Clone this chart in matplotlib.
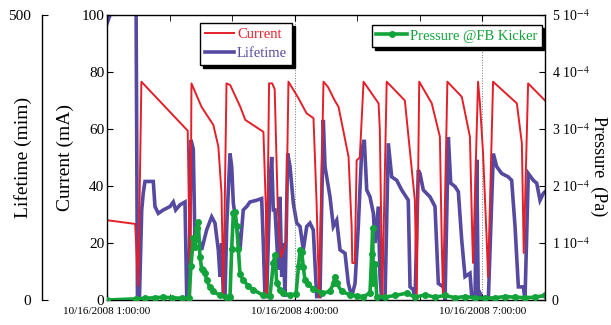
import numpy as np
import matplotlib
matplotlib.use("Agg")
import matplotlib.pyplot as plt
from matplotlib.ticker import FixedLocator, FuncFormatter

plt.rcParams['font.family'] = ['Liberation Serif', 'DejaVu Serif']
plt.rcParams['mathtext.fontset'] = 'stix'

# time in hours on 10/16/2008
cur_t = [1.00, 1.45, 1.50, 1.55, 2.29, 2.33, 2.35, 2.51, 2.70, 2.78, 2.83, 2.86, 2.91, 2.97,
         3.13, 3.21, 3.50, 3.54, 3.55, 3.59, 3.64, 3.68, 3.73, 3.78, 3.86, 3.90, 4.06, 4.19,
         4.30, 4.35, 4.39, 4.46, 4.53, 4.64, 4.70, 4.86, 4.91, 4.92, 4.96, 4.99, 5.04, 5.10,
         5.34, 5.36, 5.40, 5.47, 5.76, 5.92, 5.95, 5.99, 6.19, 6.32, 6.35, 6.37, 6.44, 6.67,
         6.80, 6.84, 6.85, 6.93, 6.96, 7.01, 7.07, 7.09, 7.17, 7.55, 7.63, 7.66, 7.73, 8.00]
current = [28, 26.7, 5, 76.6, 59.4, 1, 76, 67.8, 61.4, 53.8, 37.5, 1, 76, 75.4,
           67.8, 63.2, 59, 31.6, 1, 76, 76, 74, 31.6, 15, 20, 76.6, 70.8, 65.5,
           63.8, 34, 1, 76.6, 74.8, 70, 67.8, 50.3, 25.7, 13, 13, 49, 50, 76.6,
           69, 60, 1, 76.6, 70, 35, 1, 76.6, 69, 57.3, 20, 1, 76.6, 71.3,
           57.3, 20, 13, 76.6, 69, 51.5, 20, 8, 76.6, 69, 55, 16.5, 76, 70]

life_t = [1.000, 1.080, 1.288, 1.463, 1.487, 1.519, 1.555, 1.580, 1.607, 1.740, 1.767, 1.820,
          1.900, 2.007, 2.060, 2.098, 2.167, 2.247, 2.274, 2.311, 2.342, 2.379, 2.406, 2.459,
          2.513, 2.593, 2.673, 2.726, 2.779, 2.806, 2.833, 2.859, 2.886, 2.913, 2.966, 2.993,
          3.019, 3.073, 3.126, 3.178, 3.233, 3.285, 3.393, 3.472, 3.498, 3.525, 3.552, 3.605,
          3.632, 3.658, 3.685, 3.738, 3.765, 3.792, 3.818, 3.845, 3.888, 3.925, 3.978, 4.032,
          4.085, 4.137, 4.192, 4.244, 4.297, 4.351, 4.404, 4.457, 4.484, 4.511, 4.564, 4.617,
          4.671, 4.724, 4.804, 4.857, 4.911, 4.964, 5.016, 5.071, 5.112, 5.151, 5.203, 5.257,
          5.284, 5.336, 5.363, 5.390, 5.443, 5.496, 5.550, 5.630, 5.710, 5.815, 5.843, 5.895,
          5.923, 5.975, 6.002, 6.055, 6.162, 6.242, 6.295, 6.375, 6.402, 6.455, 6.493, 6.562,
          6.615, 6.669, 6.722, 6.801, 6.829, 6.882, 6.909, 6.934, 6.961, 7.014, 7.094, 7.174,
          7.228, 7.308, 7.413, 7.467, 7.521, 7.574, 7.654, 7.680, 7.733, 7.813, 7.867, 7.920,
          7.973, 8.000]
lifetime = [485, 510, 560, 560, 5, 5, 158, 188, 208, 208, 164, 152,
            158, 164, 172, 158, 167, 172, 6, 6, 281, 265, 100, 111,
            88, 123, 146, 135, 88, 41, 100, 6, 6, 129, 257, 234,
            170, 129, 88, 158, 164, 172, 175, 178, 100, 6, 6, 205,
            251, 158, 158, 53, 181, 41, 100, 6, 257, 234, 170, 135,
            129, 88, 129, 135, 123, 6, 6, 316, 234, 216, 181, 129,
            140, 88, 82, 29, 6, 29, 129, 263, 281, 193, 181, 152,
            100, 164, 41, 0, 0, 275, 216, 210, 193, 175, 23, 18,
            0, 228, 222, 193, 181, 164, 29, 23, 0, 286, 205, 199,
            190, 105, 41, 47, 6, 6, 246, 0, 12, 0, 0, 257,
            234, 222, 216, 210, 129, 23, 23, 0, 222, 210, 205, 175,
            187, 190]

pres_t = [1.000, 1.463, 1.607, 1.767, 1.895, 2.039, 2.199, 2.311, 2.342, 2.379, 2.406, 2.434,
          2.459, 2.486, 2.513, 2.539, 2.566, 2.593, 2.646, 2.699, 2.806, 2.902, 2.966, 2.993,
          3.019, 3.046, 3.073, 3.099, 3.126, 3.178, 3.253, 3.338, 3.498, 3.605, 3.658, 3.685,
          3.712, 3.765, 3.818, 3.925, 4.021, 4.061, 4.085, 4.112, 4.137, 4.164, 4.212, 4.297,
          4.431, 4.564, 4.620, 4.644, 4.671, 4.751, 4.884, 4.991, 5.096, 5.203, 5.230, 5.246,
          5.256, 5.284, 5.311, 5.443, 5.603, 5.790, 5.923, 6.082, 6.242, 6.402, 6.562, 6.722,
          6.882, 7.041, 7.201, 7.361, 7.521, 7.680, 7.840, 8.000]
# pressure in units of 1e-4 Pa
pres_e4 = [0, 0.02, 0.03, 0.04, 0.05, 0.04, 0.03, 0.03, 0.6, 1.08, 0.93, 1.26,
           1.37, 0.76, 0.55, 0.53, 0.47, 0.35, 0.22, 0.15, 0.08, 0.06, 0.06, 0.9,
           1.52, 1.55, 1.29, 0.9, 0.45, 0.35, 0.25, 0.18, 0.08, 0.07, 0.65, 0.79,
           0.3, 0.18, 0.12, 0.09, 0.1, 0.6, 0.88, 0.85, 0.58, 0.35, 0.28, 0.2,
           0.12, 0.15, 0.3, 0.41, 0.29, 0.15, 0.09, 0.07, 0.06, 0.12, 0.8, 1.26,
           0.3, 0.64, 0.06, 0.05, 0.08, 0.12, 0.05, 0.09, 0.05, 0.08, 0.04, 0.06,
           0.04, 0.03, 0.04, 0.06, 0.05, 0.04, 0.05, 0.08]
pressure = np.array(pres_e4) * 1e-4

red = '#e3202a'
blue = '#5549a0'
green = '#12a33a'

fig = plt.figure(figsize=(6.11, 3.25), dpi=100)
ax = fig.add_axes([0.1751, 0.0769, 0.7169, 0.8769])
ax_life = ax.twinx()
ax_p = ax.twinx()

# layering: lifetime below current, pressure on top
ax_life.set_zorder(1)
ax.set_zorder(2)
ax_p.set_zorder(3)
for a in (ax, ax_life, ax_p):
    a.patch.set_visible(False)

# ------------------------ lifetime axis ------------------------
l_life, = ax_life.plot(life_t, lifetime, color=blue, lw=2.6, label='Lifetime', solid_joinstyle='miter')
ax_life.set_ylim(0, 500)
ax_life.yaxis.set_ticks_position('left')
ax_life.yaxis.set_label_position('left')
ax_life.spines['left'].set_position(('axes', -0.148))
ax_life.spines['left'].set_bounds(0, 500)
for s in ('right', 'top', 'bottom'):
    ax_life.spines[s].set_visible(False)
ax_life.set_yticks([0, 500])
ax_life.tick_params(axis='y', direction='in', length=4, pad=8, labelsize=11)
ax_life.set_ylabel('Lifetime (mim)', fontsize=14)
ax_life.yaxis.set_label_coords(-0.172, 0.5)

# ------------------------ current axis ------------------------
l_cur, = ax.plot(cur_t, current, color=red, lw=1.4, label='Current')
ax.set_ylim(0, 100)
ax.set_xlim(1, 8)
ax.set_yticks([0, 20, 40, 60, 80, 100])
ax.tick_params(axis='y', direction='in', length=4, pad=2, labelsize=11)
ax.set_ylabel('Current (mA)', fontsize=14)
ax.yaxis.set_label_coords(-0.076, 0.5)
ax.spines['right'].set_visible(False)

ax.xaxis.set_major_locator(FixedLocator([1, 4, 7]))
ax.xaxis.set_minor_locator(FixedLocator([2, 3, 5, 6, 8]))
ax.xaxis.set_major_formatter(FuncFormatter(lambda v, p: '10/16/2008 %d:00:00' % int(round(v))))
ax.tick_params(axis='x', which='both', direction='in', top=True, length=4, pad=5, labelsize=8)
ax.grid(axis='x', which='major', linestyle=':', color='#777777', lw=0.7)

# ------------------------ pressure axis ------------------------
l_p, = ax_p.plot(pres_t, pressure, color=green, lw=2.6, marker='o', ms=4, label='Pressure @FB Kicker')
ax_p.set_ylim(0, 5e-4)
ax_p.set_yticks([0, 1e-4, 2e-4, 3e-4, 4e-4, 5e-4])
ax_p.yaxis.set_major_formatter(FuncFormatter(
    lambda v, p: '0' if v == 0 else '%d 10$^{-4}$' % int(round(v * 1e4))))
ax_p.tick_params(axis='y', direction='in', length=4, pad=5, labelsize=10)
ax_p.set_ylabel('Pressure  (Pa)', fontsize=13, rotation=270, va='bottom')
ax_p.yaxis.set_label_coords(1.102, 0.47)
for s in ('left', 'top', 'bottom'):
    ax_p.spines[s].set_visible(False)

for a in (ax, ax_life, ax_p):
    for s in a.spines.values():
        s.set_linewidth(1.0)

shadow = {'color': 'black', 'alpha': 1}
leg1 = ax_p.legend([l_cur, l_life], ['Current', 'Lifetime'], loc='upper left',
                   bbox_to_anchor=(0.212, 0.972), fontsize=10.5, fancybox=False,
                   edgecolor='black', framealpha=1, shadow=shadow, labelcolor='linecolor',
                   handlelength=2.0, handletextpad=0.2, borderpad=0.35, labelspacing=0.35,
                   borderaxespad=0)
ax_p.add_artist(leg1)
leg2 = ax_p.legend([l_p], ['Pressure @FB Kicker'], loc='upper left',
                   bbox_to_anchor=(0.605, 0.965), fontsize=10.5, fancybox=False,
                   edgecolor='black', framealpha=1, shadow=shadow, labelcolor='linecolor',
                   handlelength=2.1, handletextpad=0.2, borderpad=0.3, borderaxespad=0)
for lg in (leg1, leg2):
    lg.get_frame().set_linewidth(1.0)

fig.savefig('out.png', dpi=100)
